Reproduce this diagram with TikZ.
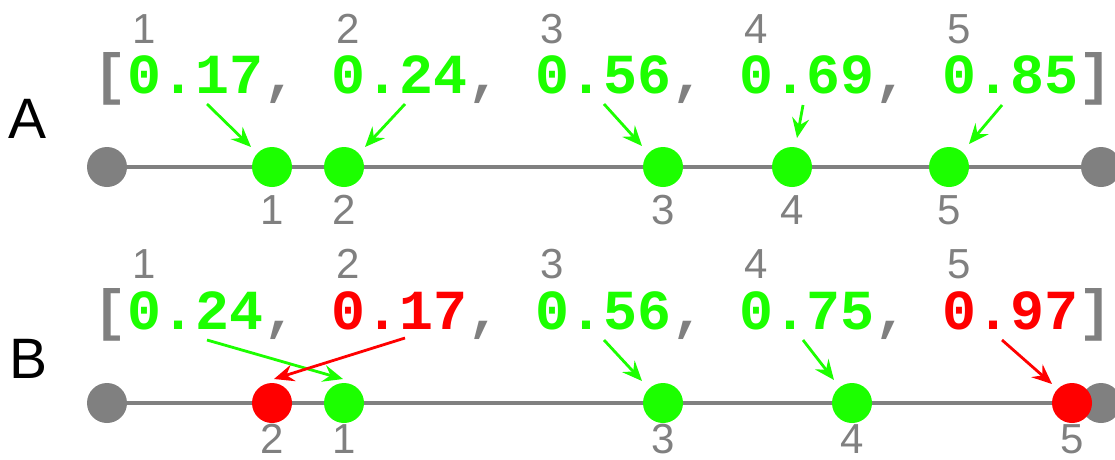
\documentclass[tikz,border=0pt]{standalone}
\usepackage{fontspec}
\setmainfont{Liberation Sans}
\newfontfamily\arrfont{Liberation Mono}
\usetikzlibrary{arrows.meta}
\definecolor{gn}{RGB}{28,255,0}
\definecolor{rd}{RGB}{255,0,0}
\definecolor{gr}{RGB}{128,128,128}
\tikzset{
  dotbase/.style={circle, minimum size=40pt, inner sep=0pt, draw=none},
  dotgray/.style={dotbase, fill=gr},
  dotgreen/.style={dotbase, fill=gn},
  dotred/.style={dotbase, fill=rd},
  axisline/.style={draw=gr, line width=3.2pt},
  arrtext/.style={inner sep=0pt, anchor=base west, font=\arrfont\bfseries\fontsize{56.6}{60}\selectfont},
  idxlabel/.style={inner sep=0pt, anchor=base, text=gr, font=\fontsize{42}{44}\selectfont},
  rowlabel/.style={inner sep=0pt, anchor=base, font=\fontsize{57}{60}\selectfont},
  arrgreen/.style={draw=gn, line width=2.8pt, -{Stealth[length=20pt, width=17pt, inset=7pt]}},
  arrred/.style={draw=rd, line width=2.8pt, -{Stealth[length=20pt, width=17pt, inset=7pt]}},
}
\begin{document}
\begin{tikzpicture}[x=1pt, y=-1pt]
\path[use as bounding box] (0,0) rectangle (1115,459);
% ---------------- Row A ----------------
\node[rowlabel] (labA) at (27.5,138) {A};
\node[arrtext, text=gr] (brA1) at (93.6,93) {[};
\node[arrtext, text=gr] (brA2) at (1078.44,93) {]};
\foreach \v/\c [count=\i from 0] in {0.17/gn, 0.24/gn, 0.56/gn, 0.69/gn, 0.85/gn}{
  \pgfmathsetmacro{\xs}{93.6+33.96*(1+6*\i)}
  \node[arrtext, text=\c] (tA\i) at (\xs,93) {\v};
  \pgfmathsetmacro{\xi}{\xs+16.98}
  \pgfmathtruncatemacro{\n}{\i+1}
  \node[idxlabel] (iA\i) at (\xi,43) {\n};
}
\foreach \i in {0,1,2,3}{
  \pgfmathsetmacro{\xc}{93.6+33.96*(5+6*\i)}
  \node[arrtext, text=gr] (cA\i) at (\xc,93) {,};
}
\node[dotgray] (aL) at (107,167) {};
\node[dotgray] (aR) at (1101,167) {};
\draw[axisline] (aL) -- (aR);
\node[dotgreen] (a1) at (272,167) {};
\node[dotgreen] (a2) at (344,167) {};
\node[dotgreen] (a3) at (663,167) {};
\node[dotgreen] (a4) at (792,167) {};
\node[dotgreen] (a5) at (949,167) {};
\node[idxlabel] (la1) at (272,224) {1};
\node[idxlabel] (la2) at (344,224) {2};
\node[idxlabel] (la3) at (663,224) {3};
\node[idxlabel] (la4) at (792,224) {4};
\node[idxlabel] (la5) at (949,224) {5};
\coordinate (sa1) at (207,104); \coordinate (ea1) at (251,147);
\coordinate (sa2) at (405,104); \coordinate (ea2) at (365,147);
\coordinate (sa3) at (604,104); \coordinate (ea3) at (642,146);
\coordinate (sa4) at (803,105); \coordinate (ea4) at (797,138);
\coordinate (sa5) at (1002,105); \coordinate (ea5) at (969,144);
\foreach \k in {1,...,5}{ \draw[arrgreen] (sa\k) -- (ea\k); }
% ---------------- Row B ----------------
\node[rowlabel] (labB) at (29,378) {B};
\node[arrtext, text=gr] (brB1) at (93.6,329) {[};
\node[arrtext, text=gr] (brB2) at (1078.44,329) {]};
\foreach \v/\c [count=\i from 0] in {0.24/gn, 0.17/rd, 0.56/gn, 0.75/gn, 0.97/rd}{
  \pgfmathsetmacro{\xs}{93.6+33.96*(1+6*\i)}
  \node[arrtext, text=\c] (tB\i) at (\xs,329) {\v};
  \pgfmathsetmacro{\xi}{\xs+16.98}
  \pgfmathtruncatemacro{\n}{\i+1}
  \node[idxlabel] (iB\i) at (\xi,278) {\n};
}
\foreach \i in {0,1,2,3}{
  \pgfmathsetmacro{\xc}{93.6+33.96*(5+6*\i)}
  \node[arrtext, text=gr] (cB\i) at (\xc,329) {,};
}
\node[dotgray] (bL) at (107,403) {};
\node[dotgray] (bR) at (1101,403) {};
\draw[axisline] (bL) -- (bR);
\node[dotred] (b2) at (272,403) {};
\node[dotgreen] (b1) at (344,403) {};
\node[dotgreen] (b3) at (663,403) {};
\node[dotgreen] (b4) at (852,403) {};
\node[dotred] (b5) at (1072,403) {};
\node[idxlabel] (lb2) at (272,453) {2};
\node[idxlabel] (lb1) at (344,453) {1};
\node[idxlabel] (lb3) at (663,453) {3};
\node[idxlabel] (lb4) at (852,453) {4};
\node[idxlabel] (lb5) at (1072,453) {5};
\coordinate (sb1) at (207,340); \coordinate (eb1) at (343,379);
\coordinate (sb2) at (405,338); \coordinate (eb2) at (274,379);
\coordinate (sb3) at (604,340); \coordinate (eb3) at (642,381);
\coordinate (sb4) at (803,340); \coordinate (eb4) at (834,380);
\coordinate (sb5) at (1002,340); \coordinate (eb5) at (1052,384);
\draw[arrgreen] (sb1) -- (eb1);
\draw[arrred] (sb2) -- (eb2);
\draw[arrgreen] (sb3) -- (eb3);
\draw[arrgreen] (sb4) -- (eb4);
\draw[arrred] (sb5) -- (eb5);
\end{tikzpicture}
\end{document}
